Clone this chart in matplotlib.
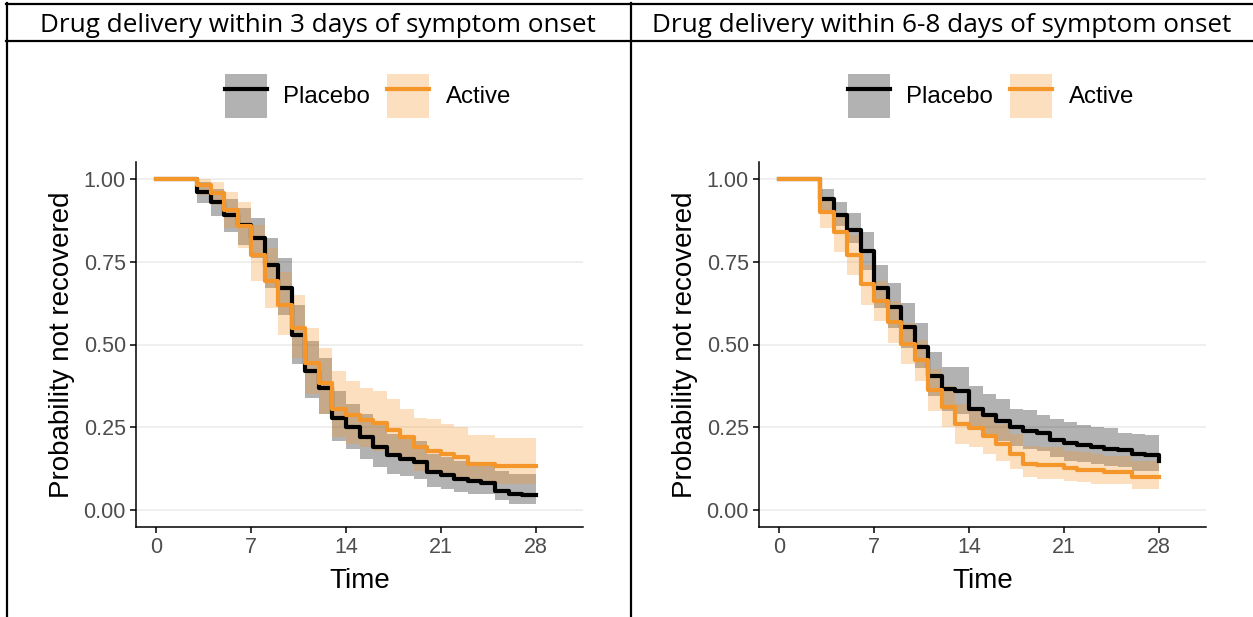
import matplotlib
matplotlib.use("Agg")
import matplotlib.pyplot as plt
from matplotlib.lines import Line2D
from matplotlib.patches import Patch
from matplotlib.legend_handler import HandlerTuple

# days at which the KM curves step (last entry = end of follow-up)
days = [0, 3, 4, 5, 6, 7, 8, 9, 10, 11, 12, 13, 14, 15, 16, 17, 18, 19, 20,
        21, 22, 23, 24, 25, 26, 27, 28]

titles = ["Drug delivery within 3 days of symptom onset",
          "Drug delivery within 6-8 days of symptom onset"]
groups = ["Placebo", "Active"]
x_ticks = [0, 7, 14, 21, 28]
y_ticks = [0.00, 0.25, 0.50, 0.75, 1.00]

# --- panel 1: within 3 days
p1_placebo = [1.00, 0.96, 0.93, 0.89, 0.86, 0.82, 0.74, 0.67, 0.53, 0.42,
              0.37, 0.28, 0.25, 0.22, 0.19, 0.166, 0.156, 0.146, 0.116, 0.106,
              0.096, 0.09, 0.083, 0.06, 0.05, 0.045, 0.045]
p1_placebo_lo = [1.0, 0.926, 0.886, 0.84, 0.80, 0.76, 0.67, 0.59, 0.44, 0.34,
                 0.29, 0.21, 0.186, 0.156, 0.13, 0.11, 0.105, 0.096, 0.07, 0.065,
                 0.055, 0.05, 0.05, 0.03, 0.02, 0.02, 0.02]
p1_placebo_hi = [1.0, 0.99, 0.97, 0.94, 0.91, 0.88, 0.82, 0.76, 0.62, 0.51,
                 0.46, 0.36, 0.32, 0.29, 0.26, 0.23, 0.22, 0.21, 0.17, 0.16,
                 0.15, 0.14, 0.14, 0.12, 0.11, 0.11, 0.11]
p1_active = [1.0, 0.98, 0.957, 0.906, 0.856, 0.77, 0.69, 0.62, 0.55, 0.443,
             0.383, 0.307, 0.287, 0.272, 0.262, 0.242, 0.222, 0.19, 0.18, 0.17,
             0.16, 0.14, 0.14, 0.133, 0.133, 0.133, 0.133]
p1_active_lo = [1.0, 0.95, 0.92, 0.85, 0.79, 0.69, 0.61, 0.53, 0.46, 0.35,
                0.29, 0.22, 0.20, 0.19, 0.18, 0.165, 0.15, 0.12, 0.115, 0.105,
                0.10, 0.085, 0.085, 0.08, 0.08, 0.08, 0.08]
p1_active_hi = [1.0, 1.0, 0.99, 0.96, 0.93, 0.86, 0.79, 0.72, 0.65, 0.55,
                0.49, 0.42, 0.39, 0.37, 0.36, 0.337, 0.307, 0.28, 0.274, 0.26,
                0.25, 0.227, 0.227, 0.218, 0.218, 0.218, 0.218]

# --- panel 2: within 6-8 days
p2_placebo = [1.0, 0.937, 0.891, 0.846, 0.783, 0.67, 0.614, 0.554, 0.493, 0.405,
              0.365, 0.36, 0.307, 0.287, 0.27, 0.252, 0.24, 0.234, 0.213, 0.203,
              0.196, 0.19, 0.186, 0.181, 0.171, 0.166, 0.15]
p2_placebo_lo = [1.0, 0.906, 0.856, 0.806, 0.725, 0.61, 0.55, 0.49, 0.43, 0.345,
                 0.30, 0.29, 0.245, 0.225, 0.21, 0.195, 0.185, 0.18, 0.16, 0.15,
                 0.145, 0.14, 0.135, 0.13, 0.12, 0.12, 0.12]
p2_placebo_hi = [1.0, 0.97, 0.93, 0.896, 0.84, 0.74, 0.685, 0.624, 0.564, 0.478,
                 0.433, 0.433, 0.375, 0.352, 0.337, 0.307, 0.302, 0.287, 0.274, 0.267,
                 0.257, 0.252, 0.247, 0.232, 0.23, 0.227, 0.227]
p2_active = [1.0, 0.898, 0.84, 0.77, 0.683, 0.63, 0.567, 0.503, 0.453, 0.363,
             0.312, 0.259, 0.247, 0.224, 0.20, 0.171, 0.141, 0.136, 0.136, 0.129,
             0.123, 0.121, 0.116, 0.116, 0.10, 0.10, 0.10]
p2_active_lo = [1.0, 0.85, 0.78, 0.71, 0.62, 0.57, 0.505, 0.44, 0.39, 0.30,
                0.25, 0.20, 0.19, 0.17, 0.15, 0.125, 0.10, 0.095, 0.095, 0.09,
                0.085, 0.08, 0.08, 0.08, 0.065, 0.065, 0.065]
p2_active_hi = [1.0, 0.94, 0.89, 0.83, 0.74, 0.69, 0.63, 0.565, 0.515, 0.425,
                0.375, 0.32, 0.305, 0.285, 0.26, 0.23, 0.195, 0.19, 0.19, 0.18,
                0.175, 0.17, 0.165, 0.165, 0.15, 0.15, 0.15]

panels = [
    [(p1_placebo, p1_placebo_lo, p1_placebo_hi), (p1_active, p1_active_lo, p1_active_hi)],
    [(p2_placebo, p2_placebo_lo, p2_placebo_hi), (p2_active, p2_active_lo, p2_active_hi)],
]
colors = ["black", "#F5962A"]

plt.rcParams["font.family"] = ["Liberation Sans", "DejaVu Sans"]

W, H = 1253, 617
fig = plt.figure(figsize=(W / 100, H / 100), dpi=100)

# table-like frame around the two panels
def hline(y, x0, x1):
    fig.add_artist(Line2D([x0 / W, x1 / W], [1 - y / H, 1 - y / H], color="black", lw=1.6))

def vline(x, y0, y1):
    fig.add_artist(Line2D([x / W, x / W], [1 - y0 / H, 1 - y1 / H], color="black", lw=1.6))

hline(4, 6, W)
hline(41, 6, W)
vline(7, 3, H)
vline(631, 3, H)

title_x = [318, 942]
ax_left = [136, 759]

for k, series in enumerate(panels):
    fig.text(title_x[k] / W, 1 - 25 / H, titles[k], ha="center", va="center",
             fontsize=18.8, family=["Open Sans", "DejaVu Sans"])

    ax = fig.add_axes([ax_left[k] / W, 90 / H, 447 / W, 365 / H])
    handles = []
    for (s, lo, hi), c in zip(series, colors):
        ax.fill_between(days, lo, hi, step="post", color=c, alpha=0.3, lw=0)
        ax.step(days, s, where="post", color=c, lw=3.0)
        handles.append((Patch(facecolor=c, alpha=0.3, lw=0),
                        Line2D([], [], color=c, lw=3.0)))

    ax.set_xlim(-1.5, 31.5)
    ax.set_ylim(-0.05, 1.05)
    ax.set_xticks(x_ticks)
    ax.set_yticks(y_ticks, labels=[f"{v:.2f}" for v in y_ticks])
    ax.grid(axis="y", color="#EBEBEB", lw=1.1)
    ax.set_axisbelow(True)
    for side in ["top", "right"]:
        ax.spines[side].set_visible(False)
    for side in ["left", "bottom"]:
        ax.spines[side].set_linewidth(1.1)
    ax.tick_params(length=4.3, width=1.1, labelsize=15.5, labelcolor="#4D4D4D", pad=3)
    ax.set_xlabel("Time", fontsize=20, labelpad=7)
    ax.set_ylabel("Probability not recovered", fontsize=20, labelpad=6)

    legend_cx = [368, 991][k]
    fig.legend(handles, groups, loc="center",
               bbox_to_anchor=(legend_cx / W, 1 - 96 / H), ncol=2, frameon=False,
               fontsize=17.3, handlelength=1.75, handleheight=2.38,
               handletextpad=0.7, columnspacing=0.7, borderpad=0,
               handler_map={tuple: HandlerTuple(ndivide=1, pad=0)})

fig.savefig("out.png", dpi=100)
